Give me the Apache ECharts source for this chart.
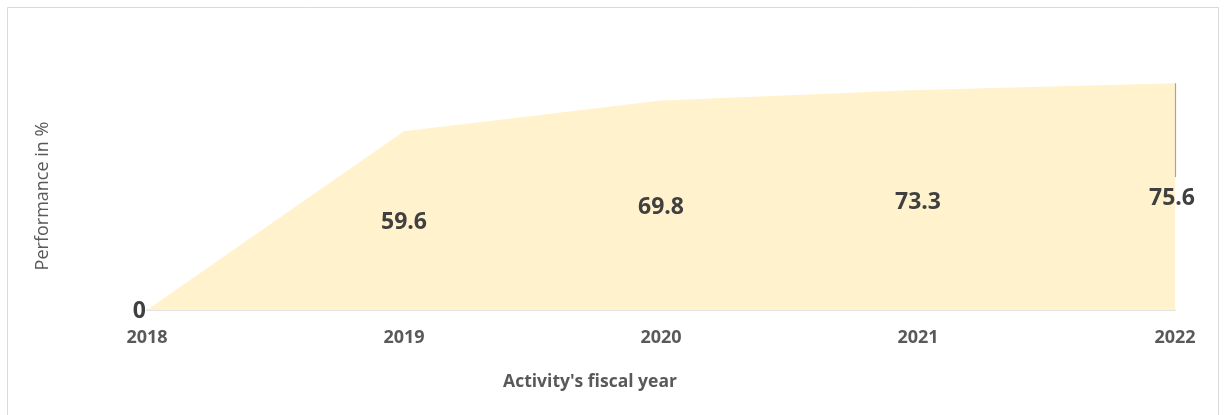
<!DOCTYPE html>
<html>
<head>
<meta charset="utf-8">
<script src="https://cdn.jsdelivr.net/npm/echarts@6/dist/echarts.min.js"></script>
<style>
  html, body { margin: 0; padding: 0; background: #ffffff; }
  #chart { width: 1226px; height: 415px; }
</style>
</head>
<body>
<div id="chart"></div>
<script>
const categories = ['2018', '2019', '2020', '2021', '2022'];
const performance = [0, 59.6, 69.8, 73.3, 75.6];
const xAxisTitle = "Activity's fiscal year";
const yAxisTitle = 'Performance in %';

const chart = echarts.init(document.getElementById('chart'), null, { renderer: 'canvas' });
const FONT = '"Open Sans", sans-serif';

const labelPoints = performance.map((v, i) => {
  if (i === 0) {
    return { value: [categories[i], v], label: { position: 'left', offset: [4, 1] } };
  }
  return { value: [categories[i], v / 2], label: { position: 'inside', offset: i === 4 ? [-3, 2] : [0, 2] } };
});

const last = performance.length - 1;

chart.setOption({
  animation: false,
  backgroundColor: '#ffffff',
  grid: { left: 147, right: 51, top: 10, bottom: 105, containLabel: false },
  xAxis: {
    type: 'category',
    data: categories,
    boundaryGap: false,
    axisLine: { show: true, lineStyle: { color: '#d9d9d9', width: 1.5 } },
    axisTick: { show: false },
    axisLabel: { color: '#595959', fontFamily: FONT, fontWeight: 'bold', fontSize: 18, margin: 19 },
    splitLine: { show: false }
  },
  yAxis: {
    type: 'value',
    min: 0,
    max: 100,
    show: false,
    splitLine: { show: false }
  },
  graphic: [
    {
      type: 'rect',
      shape: { x: 7.5, y: 7.5, width: 1211, height: 420 },
      style: { fill: null, stroke: '#d9d9d9', lineWidth: 1 },
      silent: true
    },
    {
      type: 'text',
      x: 590, y: 382,
      style: { text: xAxisTitle, fill: '#595959', font: 'bold 17.5px ' + FONT, textAlign: 'center', textVerticalAlign: 'middle' }
    },
    {
      type: 'text',
      x: 43, y: 196,
      rotation: Math.PI / 2,
      style: { text: yAxisTitle, fill: '#595959', font: '18px ' + FONT, textAlign: 'center', textVerticalAlign: 'middle' }
    }
  ],
  series: [
    {
      type: 'line',
      z: 1,
      data: performance,
      symbol: 'none',
      lineStyle: { width: 0 },
      areaStyle: { color: '#FFF2CC', opacity: 1 },
      markLine: {
        silent: true,
        symbol: 'none',
        label: { show: false },
        lineStyle: { color: '#a6a6a6', width: 1.2, type: 'solid' },
        data: [[
          { coord: [categories[last], performance[last]] },
          { coord: [categories[last], performance[last] / 2 + 6.5] }
        ]]
      }
    },
    {
      type: 'scatter',
      z: 10,
      zlevel: 1,
      data: labelPoints,
      symbolSize: 0,
      silent: true,
      itemStyle: { opacity: 1, color: 'transparent' },
      label: {
        show: true,
        color: '#404040',
        opacity: 1,
        textBorderWidth: 0,
        textBorderColor: 'transparent',
        fontFamily: FONT,
        fontWeight: 'bold',
        fontSize: 23,
        formatter: (p) => String(performance[p.dataIndex])
      }
    }
  ]
});
</script>
</body>
</html>
